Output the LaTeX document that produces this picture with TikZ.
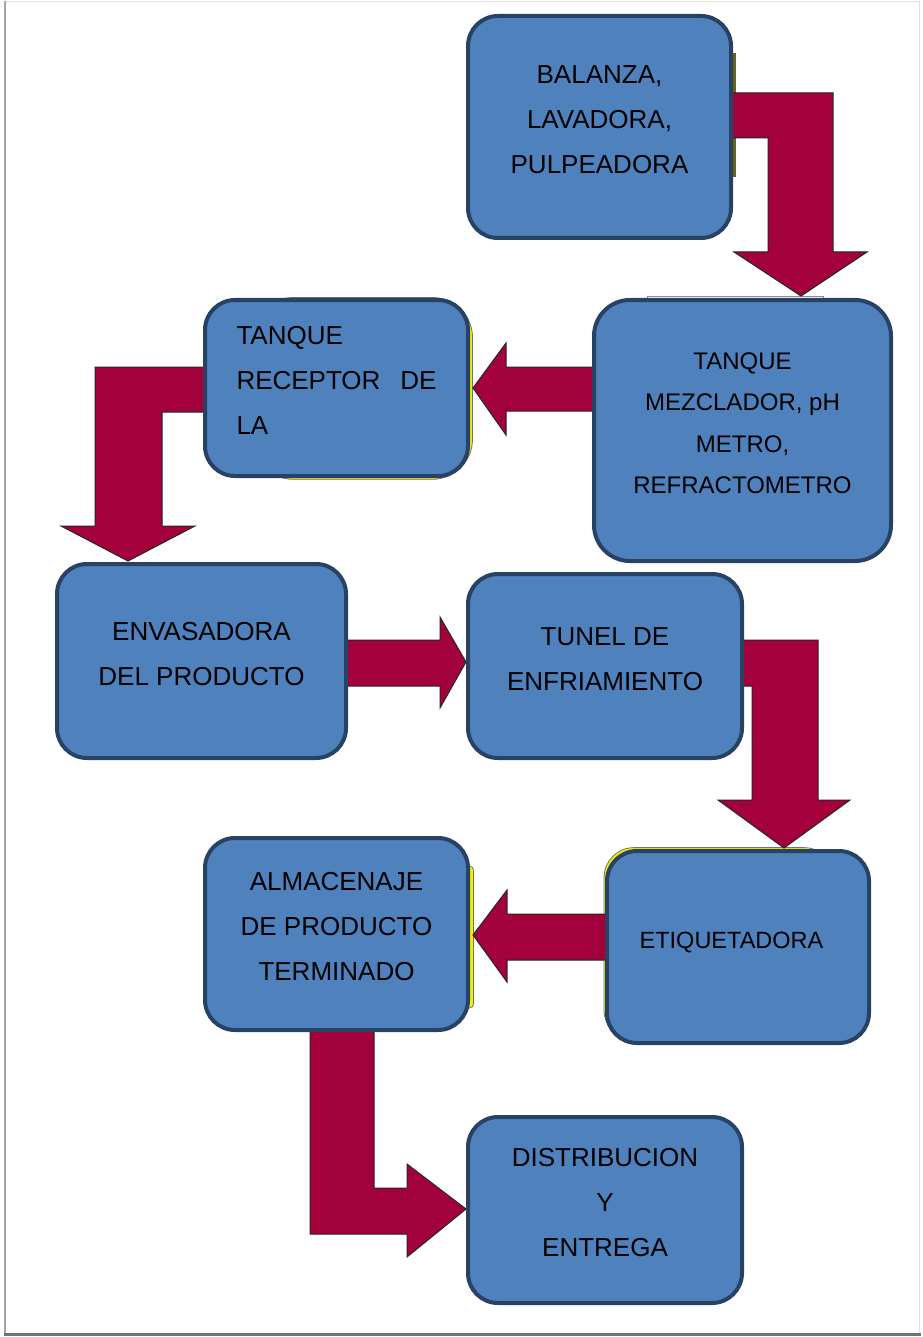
\documentclass[tikz,border=0pt]{standalone}
\usepackage{fontspec}
\setmainfont{Liberation Sans}
\usetikzlibrary{patterns}
\pgfdeclarelayer{back}
\pgfsetlayers{back,main}

\definecolor{boxfill}{RGB}{79,129,189}
\definecolor{boxline}{RGB}{40,66,102}
\definecolor{arrowbase}{RGB}{172,0,50}
\definecolor{arrowdot}{RGB}{105,10,120}
\definecolor{edgeyellow}{RGB}{245,240,0}
\definecolor{edgeolive}{RGB}{105,100,20}

% small dotted texture for the block arrows
\pgfdeclarepatternformonly{arrowdots}{\pgfpointorigin}{\pgfpoint{3.5pt}{3.5pt}}{\pgfpoint{3.5pt}{3.5pt}}{%
  \pgfpathcircle{\pgfpoint{1.75pt}{1.75pt}}{1.1pt}\pgfusepath{fill}}

% centred (or aligned) multi-line label, raised a little above the box centre
\newcommand{\boxtext}[2][c]{\raisebox{1pt}[0pt][0pt]{\begin{tabular}{@{}#1@{}}#2\end{tabular}}}

\tikzset{
  box/.style={draw=boxline, line width=4pt, fill=boxfill, rounded corners=30pt,
    inner sep=0pt, font=\fontsize{26}{45}\selectfont},
  blockarrow/.style={draw=black!85, line width=1pt, line join=miter,
    preaction={fill=arrowbase}, pattern=arrowdots, pattern color=arrowdot},
  edgestrip/.style={fill=edgeyellow, draw=black!55, line width=0.8pt},
}

\begin{document}
\begin{tikzpicture}[x=1pt, y=-1pt]
\useasboundingbox (0,0) rectangle (922,1337);

% process boxes
\node[box, minimum width=263pt, minimum height=222pt] (b1) at (599.5,127)
  {\boxtext{BALANZA,\\LAVADORA,\\PULPEADORA}};
\node[box, font=\fontsize{24}{41.5}\selectfont, rounded corners=36pt,
      minimum width=297pt, minimum height=261pt] (b2) at (742.5,430.5)
  {\boxtext{TANQUE\\MEZCLADOR, pH\\METRO,\\REFRACTOMETRO}};
\node[box, minimum width=263pt, minimum height=176pt] (b3) at (336.5,388)
  {\boxtext[l]{TANQUE\\\makebox[200pt][l]{RECEPTOR\hfill DE}\\LA}};
\node[box, minimum width=289pt, minimum height=194pt] (b4) at (201.5,661)
  {\boxtext{ENVASADORA\\DEL PRODUCTO}};
\node[box, minimum width=274pt, minimum height=184pt] (b5) at (605,666)
  {\boxtext{TUNEL DE\\ENFRIAMIENTO}};
\node[box, font=\fontsize{23.5}{42}\selectfont,
      minimum width=262pt, minimum height=192pt] (b6) at (738,947)
  {\boxtext{ETIQUETADORA\hspace*{13pt}}};
\node[box, minimum width=263pt, minimum height=192pt] (b7) at (336.5,934)
  {\boxtext{ALMACENAJE\\DE PRODUCTO\\TERMINADO}};
\node[box, minimum width=274pt, minimum height=186pt] (b8) at (605,1210)
  {\boxtext{DISTRIBUCION\\Y\\ENTREGA}};

\begin{pgfonlayer}{back}
  \fill[white] (0,0) rectangle (922,1337);

  % page frame with a soft shadow
  \draw[line width=1pt, black!12] (5,1.5) -- (919.5,1.5) -- (919.5,1333);
  \draw[line width=2.5pt, black!35] (5,1.5) -- (5,1333);
  \draw[line width=3pt, black!55] (4,1334.5) -- (921,1334.5);

  % outlines of the shapes lying under some of the boxes
  \fill[edgeolive] (640,53) rectangle (736,177);
  \draw[black!45, line width=0.8pt] (647,296.5) rectangle (823,520);
  \draw[edgestrip, rounded corners=40pt] (253,297.5) rectangle (472.5,479.3);
  \draw[edgestrip, rounded corners=30pt] (604,847.6) rectangle (834,1040);
  \draw[edgestrip, rounded corners=4pt] (260,866) rectangle (473.5,1008);

  % block arrows between the stages
  \draw[blockarrow] (b1.center |- 0,93) -- (833,93) -- (833,252) -- (867,252)
    -- (801,296) -- (734,252) -- (768,252) -- (768,138) -- (b1.center |- 0,138) -- cycle;
  \draw[blockarrow] (b2.center |- 0,367) -- (506,367) -- (506,343) -- (473,388)
    -- (506,435) -- (506,411) -- (b2.center |- 0,411) -- cycle;
  \draw[blockarrow] (b3.center |- 0,367) -- (95,367) -- (95,526) -- (61,526)
    -- (128,561) -- (195,526) -- (162,526) -- (162,412) -- (b3.center |- 0,412) -- cycle;
  \draw[blockarrow] (b4.center |- 0,640) -- (440,640) -- (440,617) -- (466,662)
    -- (440,708) -- (440,686) -- (b4.center |- 0,686) -- cycle;
  \draw[blockarrow] (b5.center |- 0,640) -- (818,640) -- (818,800) -- (850,800)
    -- (784,848) -- (718,800) -- (752,800) -- (752,686) -- (b5.center |- 0,686) -- cycle;
  \draw[blockarrow] (b6.center |- 0,914) -- (507,914) -- (507,890) -- (473,935)
    -- (507,982) -- (507,960) -- (b6.center |- 0,960) -- cycle;
  \draw[blockarrow] (b7.center -| 310,0) -- (310,1234) -- (407,1234) -- (407,1257)
    -- (466,1209) -- (407,1164) -- (407,1188) -- (374,1188) -- (b7.center -| 374,0) -- cycle;
\end{pgfonlayer}
\end{tikzpicture}
\end{document}
